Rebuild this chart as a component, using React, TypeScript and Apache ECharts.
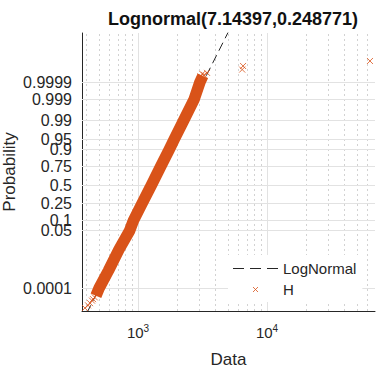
import React, { useEffect, useRef } from 'react';
import * as echarts from 'echarts';

const TITLE = 'Lognormal(7.14397,0.248771)';
const X_NAME = 'Data';
const Y_NAME = 'Probability';
const X_RANGE = [368, 68700];
const Y_PROB_RANGE = [0.0000027, 0.99999998];
const Y_TICK_PROBS = [0.0001, 0.05, 0.1, 0.25, 0.5, 0.75, 0.9, 0.95, 0.99, 0.999, 0.9999];
const Y_TICK_LABELS = ['0.0001', '0.05', '0.1', '0.25', '0.5', '0.75', '0.9', '0.95', '0.99', '0.999', '0.9999'];
const X_MAJOR = [1000, 10000];
const X_MINOR = [400, 500, 600, 700, 800, 900, 2000, 3000, 4000, 5000, 6000, 7000, 8000, 9000, 20000, 30000, 40000, 50000, 60000];

// fitted lognormal reference line (endpoints, value / probability)
const FIT_LINE: [number, number][] = [[400, 0.0000018], [5000, 0.999999983]];
// dense body of the sample (band centre)
const BAND: [number, number][] = [
  [472, 0.000032], [500, 0.0001], [590, 0.001], [712, 0.01], [862, 0.05], [922, 0.1],
  [1072, 0.25], [1270, 0.5], [1500, 0.75], [1745, 0.9], [1905, 0.95], [2255, 0.99],
  [2720, 0.999], [3020, 0.9999], [3180, 0.99996],
];
// sparse tail points and outliers
const TAILS: [number, number][] = [
  [388, 0.0000045], [410, 0.000007], [425, 0.00001], [440, 0.000015], [448, 0.000019],
  [462, 0.000025], [485, 0.000045],
  [3050, 0.9999557], [3150, 0.99997], [3250, 0.9999655], [3430, 0.9999744],
  [6420, 0.9999848], [6520, 0.99999146], [62800, 0.99999627],
];

const ORANGE = '#D95319';
const TXT = '#262626';
const FONT = 'Liberation Sans, Arial, Helvetica, sans-serif';
const X_PATH = 'path://M0,0L10,10M10,0L0,10';
const X_LEGEND_PATH = 'path://M0,0M14,14M4.5,4.5L9.5,9.5M9.5,4.5L4.5,9.5';
const DASH_LEGEND_PATH = 'path://M0,0h11v1.2h-11zM17,0h11v1.2h-11zM34,0h11v1.2h-11z';

function norminv(p: number): number {
  const a = [-3.969683028665376e1, 2.209460984245205e2, -2.759285104469687e2, 1.38357751867269e2, -3.066479806614716e1, 2.506628277459239];
  const b = [-5.447609879822406e1, 1.615858368580409e2, -1.556989798598866e2, 6.680131188771972e1, -1.328068155288572e1];
  const c = [-7.784894002430293e-3, -3.223964580411365e-1, -2.400758277161838, -2.549732539343734, 4.374664141464968, 2.938163982698783];
  const d = [7.784695709041462e-3, 3.224671290700398e-1, 2.445134137142996, 3.754408661907416];
  const plow = 0.02425;
  if (p < plow) {
    const q = Math.sqrt(-2 * Math.log(p));
    return (((((c[0] * q + c[1]) * q + c[2]) * q + c[3]) * q + c[4]) * q + c[5]) / ((((d[0] * q + d[1]) * q + d[2]) * q + d[3]) * q + 1);
  }
  if (p > 1 - plow) {
    const q = Math.sqrt(-2 * Math.log(1 - p));
    return -(((((c[0] * q + c[1]) * q + c[2]) * q + c[3]) * q + c[4]) * q + c[5]) / ((((d[0] * q + d[1]) * q + d[2]) * q + d[3]) * q + 1);
  }
  const q = p - 0.5;
  const r = q * q;
  return (((((a[0] * r + a[1]) * r + a[2]) * r + a[3]) * r + a[4]) * r + a[5]) * q / (((((b[0] * r + b[1]) * r + b[2]) * r + b[3]) * r + b[4]) * r + 1);
}

const toZ = (pts: [number, number][]) => pts.map(([v, p]) => [v, norminv(p)]);

export default function App() {
  const ref = useRef<HTMLDivElement>(null);
  useEffect(() => {
    const chart = echarts.init(ref.current!, null, { renderer: 'svg' });
    const yTickZ = Y_TICK_PROBS.map(norminv);
    const gridLines: any[] = [
      ...X_MINOR.map((v) => ({ xAxis: v, lineStyle: { type: [2, 3], color: '#d2d2d2', width: 1 } })),
      ...X_MAJOR.map((v) => ({ xAxis: v, lineStyle: { type: 'solid', color: '#e2e2e2', width: 1 } })),
      ...yTickZ.map((z) => ({ yAxis: z, lineStyle: { type: 'solid', color: '#e2e2e2', width: 1 } })),
    ];
    chart.setOption({
      animation: false,
      backgroundColor: '#fff',
      title: {
        text: TITLE,
        left: 228,
        top: 5,
        textAlign: 'center',
        textStyle: { fontFamily: FONT, fontSize: 18, fontWeight: 'bold', color: '#111' },
      },
      grid: { left: 82, right: 10, top: 33, bottom: 58, containLabel: false, outerBoundsMode: 'none' },
      legend: {
        orient: 'vertical',
        left: 228,
        top: 255,
        padding: [6, 6, 5, 5],
        itemGap: 6,
        itemWidth: 45,
        itemHeight: 14,
        backgroundColor: '#fff',
        z: 10,
        textStyle: { fontFamily: FONT, fontSize: 15, color: TXT },
        data: [
          { name: 'LogNormal', icon: DASH_LEGEND_PATH, itemStyle: { color: TXT, borderWidth: 0 } },
          { name: 'H', icon: X_LEGEND_PATH, itemStyle: { color: 'rgba(0,0,0,0)', borderColor: ORANGE, borderWidth: 1 } },
        ],
      },
      xAxis: {
        type: 'log',
        logBase: 10,
        min: X_RANGE[0],
        max: X_RANGE[1],
        name: X_NAME,
        nameLocation: 'middle',
        nameGap: 40,
        nameMoveOverlap: false,
        nameTextStyle: { fontFamily: FONT, fontSize: 17, color: TXT },
        axisLine: { show: true, onZero: false, lineStyle: { color: TXT, width: 1 } },
        axisTick: { show: true, inside: true, length: 3, customValues: X_MAJOR, lineStyle: { color: TXT } },
        axisLabel: {
          customValues: X_MAJOR,
          margin: 12,
          color: TXT,
          fontFamily: FONT,
          formatter: (v: number) => `{b|10}{s|${Math.round(Math.log10(v))}}`,
          rich: {
            b: { fontFamily: FONT, fontSize: 15, color: TXT },
            s: { fontFamily: FONT, fontSize: 10, color: TXT, padding: [0, 0, 8, 0] },
          },
        },
        splitLine: { show: false },
        minorSplitLine: { show: false },
      },
      yAxis: {
        type: 'value',
        min: norminv(Y_PROB_RANGE[0]),
        max: norminv(Y_PROB_RANGE[1]),
        name: Y_NAME,
        nameLocation: 'middle',
        nameGap: 64,
        nameMoveOverlap: false,
        nameTextStyle: { fontFamily: FONT, fontSize: 17, color: TXT },
        axisLine: { show: true, onZero: false, lineStyle: { color: TXT, width: 1 } },
        axisTick: { show: true, inside: true, length: 3, customValues: yTickZ, lineStyle: { color: TXT } },
        axisLabel: {
          customValues: yTickZ,
          margin: 10,
          color: TXT,
          fontFamily: FONT,
          fontSize: 16,
          formatter: (v: number) => {
            const i = yTickZ.findIndex((z) => Math.abs(z - v) < 1e-6);
            return i >= 0 ? Y_TICK_LABELS[i] : '';
          },
        },
        splitLine: { show: false },
      },
      series: [
        {
          name: '_grid',
          type: 'line',
          data: [],
          z: 1,
          silent: true,
          markLine: {
            z: 1,
            silent: true,
            symbol: ['none', 'none'],
            label: { show: false },
            emphasis: { disabled: true },
            data: gridLines,
          },
        },
        {
          name: 'LogNormal',
          type: 'line',
          data: toZ(FIT_LINE),
          z: 2,
          showSymbol: false,
          symbol: 'none',
          symbolSize: 0,
          clip: true,
          emphasis: { disabled: true },
          lineStyle: { color: TXT, width: 1, type: [9, 5] },
        },
        {
          name: '_band',
          type: 'line',
          data: toZ(BAND),
          z: 3,
          showSymbol: false,
          symbol: 'none',
          symbolSize: 0,
          silent: true,
          emphasis: { disabled: true },
          lineStyle: { color: ORANGE, width: 11.5, join: 'round', cap: 'butt' },
        },
        {
          name: 'H',
          type: 'scatter',
          data: toZ(TAILS),
          z: 4,
          symbol: X_PATH,
          symbolSize: 6,
          itemStyle: { color: 'rgba(0,0,0,0)', borderColor: ORANGE, borderWidth: 1 },
        },
      ],
    });
    return () => chart.dispose();
  }, []);
  return <div ref={ref} style={{ position: 'fixed', left: 0, top: 0, width: 385, height: 369 }} />;
}
